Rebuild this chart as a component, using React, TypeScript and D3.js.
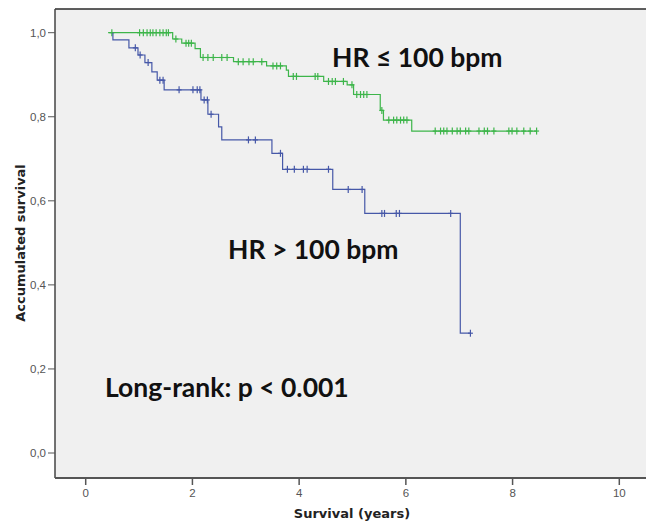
import React from "react";
import * as d3 from "d3";

// Kaplan-Meier step data (time in years, survival proportion)
const greenEventTimes = [0.42, 1.63, 1.80, 2.05, 2.15, 2.77, 3.39, 3.76, 3.80, 4.46, 4.90, 5.02, 5.52, 5.58, 6.11];
const greenEventSurv = [1.0, 0.985, 0.975, 0.962, 0.941, 0.931, 0.921, 0.911, 0.896, 0.884, 0.876, 0.853, 0.815, 0.792, 0.766];
const greenCensorTimes = [
  0.49, 1.01, 1.08, 1.15, 1.21, 1.26, 1.32, 1.39, 1.45, 1.51, 1.55, 1.69, 1.88, 1.93, 1.98,
  2.20, 2.29, 2.39, 2.55, 2.65, 2.86, 2.95, 3.06, 3.14, 3.30, 3.51, 3.58, 3.65,
  3.89, 3.95, 4.30, 4.35, 4.55, 4.62, 4.68, 4.83, 4.99, 5.08, 5.15, 5.21, 5.27, 5.55,
  5.68, 5.77, 5.83, 5.90, 5.96, 6.02,
  6.55, 6.65, 6.71, 6.77, 6.87, 6.96, 7.02, 7.12, 7.18, 7.37, 7.47, 7.53, 7.65, 7.93, 7.99, 8.08, 8.21, 8.33, 8.45,
];

const blueEventTimes = [0.51, 0.51, 0.81, 0.98, 1.11, 1.24, 1.34, 1.47, 2.16, 2.29, 2.49, 2.55, 3.49, 3.69, 4.63, 5.23, 7.02];
const blueEventSurv = [1.0, 0.983, 0.964, 0.947, 0.929, 0.907, 0.887, 0.864, 0.840, 0.806, 0.776, 0.745, 0.713, 0.675, 0.627, 0.570, 0.285];
const blueCensorTimes = [
  0.93, 1.02, 1.17, 1.39, 1.45, 1.75, 2.01, 2.09, 2.14, 2.22, 2.28, 2.35, 3.05, 3.18, 3.65,
  3.78, 3.91, 4.08, 4.15, 4.55, 4.92, 5.18, 5.55, 5.60, 5.82, 5.88, 6.84, 7.21,
];

const xTicks = [0, 2, 4, 6, 8, 10];
const yTicks = [0, 0.2, 0.4, 0.6, 0.8, 1.0];

const W = 646;
const H = 523;

const x = d3.scaleLinear().domain([0, 10]).range([85.7, 619.3]);
const y = d3.scaleLinear().domain([0, 1]).range([453, 32.7]);

function survAt(times: number[], surv: number[], t: number) {
  let s = surv[0];
  for (let i = 0; i < times.length; i++) {
    if (times[i] <= t + 1e-9) s = surv[i];
  }
  return s;
}

function stepPath(times: number[], surv: number[], censors: number[]) {
  const pts: [number, number][] = times.map((t, i) => [t, surv[i]]);
  const lastT = Math.max(times[times.length - 1], ...censors);
  pts.push([lastT, surv[surv.length - 1]]);
  const line = d3
    .line<[number, number]>()
    .x((d) => x(d[0]))
    .y((d) => y(d[1]))
    .curve(d3.curveStepAfter);
  return line(pts) || "";
}

function Curve({ times, surv, censors, color }: { times: number[]; surv: number[]; censors: number[]; color: string }) {
  return (
    <g>
      <path d={stepPath(times, surv, censors)} fill="none" stroke={color} strokeWidth={1.2} />
      {censors.map((t, i) => {
        const cx = x(t);
        const cy = y(survAt(times, surv, t));
        return (
          <g key={i} stroke={color} strokeWidth={1.2}>
            <line x1={cx} x2={cx} y1={cy - 3.5} y2={cy + 3.5} />
            <line x1={cx - 2.5} x2={cx + 2.5} y1={cy} y2={cy} />
          </g>
        );
      })}
    </g>
  );
}

export default function App() {
  const left = 55;
  const top = 9;
  const bottom = 478;
  const fmt = (v: number) => v.toFixed(1).replace(".", ",");
  return (
    <svg width={W} height={H} style={{ position: "absolute", left: 0, top: 0, background: "#ffffff" }}>
      <rect x={left} y={top} width={W - left + 5} height={bottom - top} fill="#f0f0f0" />
      <line x1={left} x2={W} y1={top} y2={top} stroke="#2a2a2a" strokeWidth={1.3} />
      <line x1={left} x2={left} y1={top} y2={bottom} stroke="#444" strokeWidth={1.5} />
      <line x1={left} x2={W} y1={bottom} y2={bottom} stroke="#555" strokeWidth={2} />

      {yTicks.map((v) => (
        <g key={v}>
          <line x1={left - 7} x2={left} y1={y(v)} y2={y(v)} stroke="#555" strokeWidth={1} />
          <text x={left - 9} y={y(v) + 4} textAnchor="end" fontFamily="Liberation Sans, Arial, sans-serif" fontSize={11.5} fill="#555">
            {fmt(v)}
          </text>
        </g>
      ))}
      {xTicks.map((v) => (
        <g key={v}>
          <line x1={x(v)} x2={x(v)} y1={bottom} y2={bottom + 7} stroke="#555" strokeWidth={1.5} />
          <text x={x(v)} y={bottom + 19} textAnchor="middle" fontFamily="Liberation Sans, Arial, sans-serif" fontSize={11.5} fill="#555">
            {v}
          </text>
        </g>
      ))}

      <text x={352} y={518} textAnchor="middle" fontFamily="DejaVu Sans, sans-serif" fontWeight="bold" fontSize={13} fill="#222">
        Survival (years)
      </text>
      <text
        transform={`translate(25,243) rotate(-90)`}
        textAnchor="middle"
        fontFamily="DejaVu Sans, sans-serif"
        fontWeight="bold"
        fontSize={13}
        fill="#222"
      >
        Accumulated survival
      </text>

      <Curve times={greenEventTimes} surv={greenEventSurv} censors={greenCensorTimes} color="#3db54a" />
      <Curve times={blueEventTimes} surv={blueEventSurv} censors={blueCensorTimes} color="#4658a8" />

      <text x={332} y={67} fontFamily="Lato, sans-serif" fontWeight="bold" fontSize={26.5} fill="#111">
        HR ≤ 100 bpm
      </text>
      <text x={228} y={259} fontFamily="Lato, sans-serif" fontWeight="bold" fontSize={26.5} fill="#111">
        HR &gt; 100 bpm
      </text>
      <text x={105} y={397} fontFamily="Lato, sans-serif" fontWeight="bold" fontSize={26.5} fill="#111">
        Long-rank: p &lt; 0.001
      </text>
    </svg>
  );
}
